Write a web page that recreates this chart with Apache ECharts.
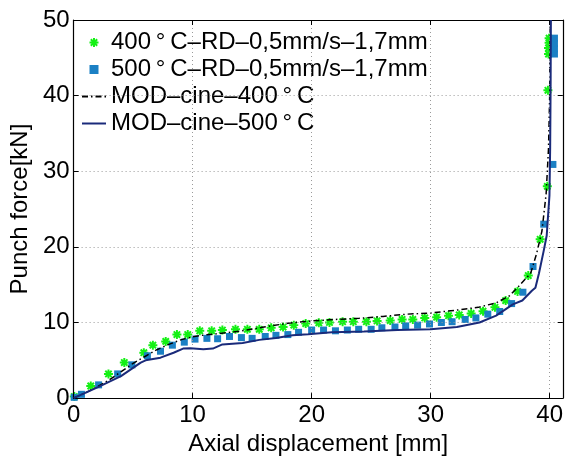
<!DOCTYPE html>
<html><head><meta charset="utf-8">
<script src="https://cdn.jsdelivr.net/npm/echarts@6/dist/echarts.min.js"></script>
<style>html,body{margin:0;padding:0;background:#fff}#c{width:566px;height:461px}</style>
</head><body><div id="c"></div>
<script>
const names = ['400\u2009°\u2009C–RD–0,5mm/s–1,7mm','500\u2009°\u2009C–RD–0,5mm/s–1,7mm','MOD–cine–400\u2009°\u2009C','MOD–cine–500\u2009°\u2009C'];
const xTicks = [0,10,20,30,40];
const yTicks = [0,10,20,30,40,50];
const exp400 = [[0.06,0.2],[1.44,1.6],[2.93,3.2],[4.26,4.7],[5.9,6.0],[6.66,7.0],[7.74,7.5],[8.68,8.4],[9.59,8.4],[10.6,8.9],[11.6,8.9],[12.5,9.0],[13.6,9.1],[14.6,9.1],[15.6,9.1],[16.6,9.3],[17.6,9.4],[18.5,9.65],[19.5,9.86],[20.6,9.95],[21.5,10.0],[22.6,10.1],[23.5,10.1],[24.6,10.1],[25.5,10.2],[26.6,10.25],[27.6,10.4],[28.5,10.4],[29.5,10.6],[30.5,10.7],[31.5,10.9],[32.4,11.0],[33.4,11.2],[34.4,11.5],[35.4,12.0],[36.3,12.9],[37.3,14.1],[38.2,16.2],[39.2,21.0],[39.8,28.0],[39.85,40.7],[39.9,45.5],[39.9,46.3],[39.95,47.0],[39.95,47.6]];
const exp500 = [[0.05,0.1],[0.66,0.5],[2.1,1.75],[3.7,3.2],[4.9,4.4],[6.2,5.6],[7.3,6.2],[8.3,7.0],[9.3,7.4],[10.2,7.8],[11.2,7.9],[12.1,7.85],[13.1,8.15],[14.1,8.0],[15.0,7.9],[16.1,8.15],[17.0,8.3],[18.0,8.4],[18.9,8.7],[20.0,9.0],[21.0,9.0],[22.0,8.9],[23.0,9.0],[23.95,9.1],[25.0,9.1],[25.9,9.3],[27.0,9.4],[27.9,9.55],[28.9,9.65],[29.9,9.8],[30.9,10.0],[31.8,10.1],[32.9,10.4],[33.8,10.6],[34.8,11.1],[35.8,11.45],[36.8,12.5],[37.75,14.0],[38.6,17.4],[39.5,23.0],[40.27,30.9],[40.4,45.5],[40.4,46.2],[40.4,46.9],[40.4,47.6]];
const mod400 = [[0,0],[1,0.7],[2,1.5],[3,2.4],[4,3.5],[5,4.6],[6,5.5],[7,6.4],[8,7.1],[9,7.7],[10,8.1],[11,8.35],[12,8.5],[14,8.85],[16,9.4],[18,9.9],[20,10.2],[22,10.4],[24,10.55],[26,10.8],[28,11.1],[30,11.25],[32,11.6],[34,12.0],[35.5,12.6],[36.6,13.5],[37.4,14.8],[38.4,16.5],[38.9,19.1],[39.35,22.1],[39.7,27],[39.9,33],[40.0,40],[40.05,50]];
const mod500 = [[0,0],[2.05,1.45],[3.98,2.9],[5.64,4.7],[6.05,5.0],[7.3,5.35],[8.4,6.0],[9.2,6.55],[9.8,6.6],[10.9,6.45],[11.7,6.55],[12.5,7.1],[14.2,7.3],[15.6,7.7],[17.0,7.95],[18.4,8.3],[19.7,8.45],[21.7,8.7],[24.4,8.8],[27.2,9.0],[30.0,9.1],[32.2,9.4],[34.1,10.0],[35.5,10.9],[36.9,12.4],[37.7,12.9],[38.5,14.2],[38.8,14.6],[39.1,16.5],[39.5,19.5],[39.75,21.5],[39.98,26.8],[40.04,33.2],[40.08,42],[40.1,50]];

const FONT = 'Liberation Sans';
const star = 'path://M0 3.9L10 3.9L10 6.1L0 6.1Z M3.9 0L6.1 0L6.1 10L3.9 10Z M2.242 0.686L9.314 7.758L7.758 9.314L0.686 2.242Z M0.686 7.758L7.758 0.686L9.314 2.242L2.242 9.314Z';
const square = 'path://M0 0L10 0L10 10L0 10Z';
const XMIN = 0, XMAX = 41.1, YMIN = 0, YMAX = 50;

const chart = echarts.init(document.getElementById('c'), null, {renderer:'canvas'});
const axisLine = {show:true, onZero:false, lineStyle:{color:'#000', width:1.2}};
chart.setOption({
  animation:false,
  backgroundColor:'#fff',
  grid:{left:72, right:-2, top:20, bottom:53, containLabel:false},
  legend:{
    orient:'vertical', left:74, top:22, z:3,
    padding:[7,4,6,7], itemGap:0, itemWidth:24, itemHeight:9,
    backgroundColor:'#fff',
    textStyle:{fontFamily:FONT, fontSize:24, color:'#000', lineHeight:27},
    data: [
      {name:names[0]},
      {name:names[1]},
      {name:names[2], itemStyle:{opacity:0}},
      {name:names[3], itemStyle:{opacity:0}}
    ]
  },
  xAxis:[{
    type:'value', min:XMIN, max:XMAX, interval:10, position:'bottom', z:5,
    name:'Axial displacement [mm]', nameLocation:'middle', nameGap:26,
    nameTextStyle:{fontFamily:FONT, fontSize:24, color:'#000'},
    axisLine:axisLine, axisTick:{inside:true, length:5, lineStyle:{color:'#000'}},
    axisLabel:{fontFamily:FONT, fontSize:24, color:'#000', margin:5,
      formatter:v=> xTicks.includes(v) ? String(v) : ''},
    splitLine:{show:true, lineStyle:{color:'#9a9a9a', type:[1,3], width:1}}
  },{
    type:'value', min:XMIN, max:XMAX, interval:10, position:'top', z:5,
    axisLine:axisLine, axisTick:{inside:true, length:5, lineStyle:{color:'#000'}},
    axisLabel:{show:false}, splitLine:{show:false}
  }],
  yAxis:[{
    type:'value', min:YMIN, max:YMAX, interval:10, position:'left', z:5,
    name:'Punch force[kN]', nameLocation:'middle', nameGap:33, nameRotate:90,
    nameTextStyle:{fontFamily:FONT, fontSize:24, color:'#000'},
    axisLine:axisLine, axisTick:{inside:true, length:5, lineStyle:{color:'#000'}},
    axisLabel:{fontFamily:FONT, fontSize:24, color:'#000', margin:4,
      formatter:v=> yTicks.includes(v) ? String(v) : ''},
    splitLine:{show:true, lineStyle:{color:'#9a9a9a', type:[1,3], width:1}}
  },{
    type:'value', min:YMIN, max:YMAX, interval:10, position:'right', z:5,
    axisLine:axisLine, axisTick:{inside:true, length:5, lineStyle:{color:'#000'}},
    axisLabel:{show:false}, splitLine:{show:false}
  }],
  series:[
    {name:names[0], type:'scatter', data:exp400, symbol:star, symbolSize:9,
     itemStyle:{color:'#14f014', opacity:1}, z:2},
    {name:names[1], type:'scatter', data:exp500, symbol:square, symbolSize:7,
     itemStyle:{color:'#1b80c4', opacity:1}, z:3},
    {name:names[2], type:'line', data:mod400, symbol:'none', showSymbol:false, clip:true,
     lineStyle:{color:'#000', width:1.5, type:[6,3,1.5,3]}, itemStyle:{color:'#000'}, z:4},
    {name:names[3], type:'line', data:mod500, symbol:'none', showSymbol:false, clip:true,
     lineStyle:{color:'#1a2a7a', width:2}, itemStyle:{color:'#1a2a7a'}, z:5}
  ]
});
</script></body></html>
